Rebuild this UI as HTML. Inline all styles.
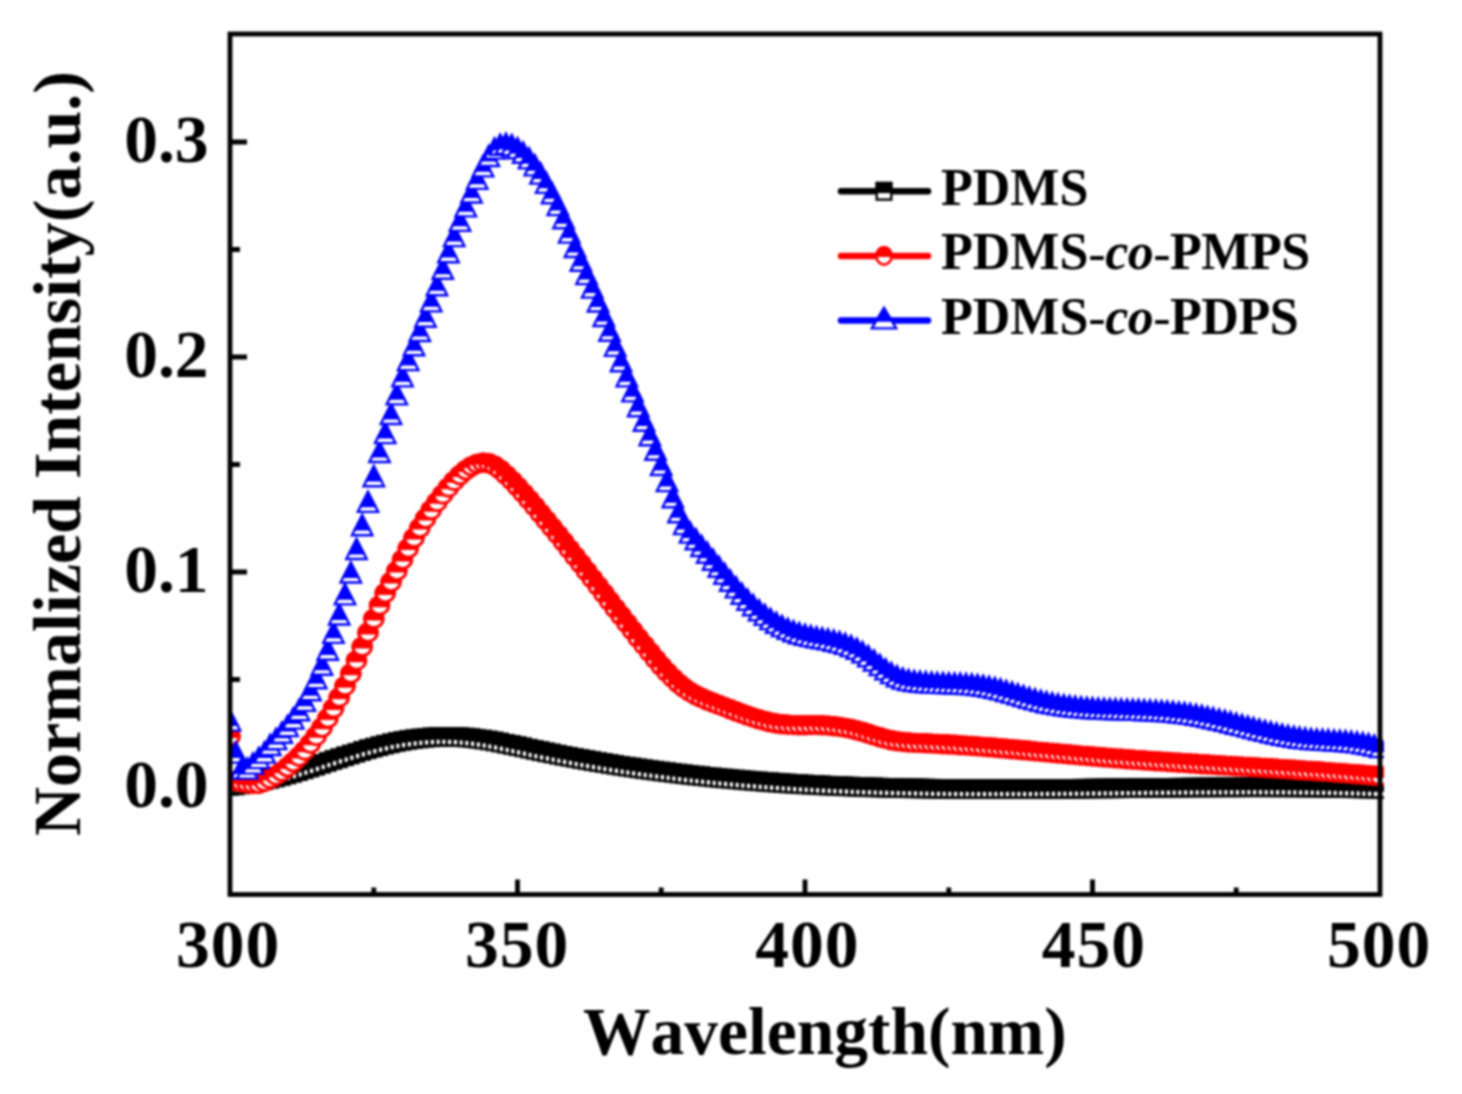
<!DOCTYPE html><html><head><meta charset="utf-8"><title>Normalized Intensity</title><style>html,body{margin:0;padding:0;background:#fff;}svg{display:block;}#w{filter:blur(0.8px);width:1462px;height:1094px;}text{font-family:"Liberation Serif",serif;}</style></head><body><div id="w"><svg width="1462" height="1094" viewBox="0 0 1462 1094"><defs><symbol id="ms" overflow="visible"><rect x="-7.5" y="-8.5" width="15.0" height="17.0" fill="#fff" stroke="#000" stroke-width="2.6"/><rect x="-8.8" y="-9.8" width="17.6" height="12.600000000000001" fill="#000"/></symbol><symbol id="ls" overflow="visible"><rect x="-7.3" y="-8.3" width="14.6" height="16.6" fill="#fff" stroke="#000" stroke-width="2.4"/><rect x="-8.5" y="-9.5" width="17.0" height="11.3" fill="#000"/></symbol><symbol id="mc" overflow="visible"><ellipse cx="0" cy="0" rx="9.2" ry="8.7" fill="#fff" stroke="#f00" stroke-width="3.0"/><path d="M-10.57,1.6 A10.7,10.2 0 1 1 10.57,1.6 Z" fill="#f00"/></symbol><symbol id="lc" overflow="visible"><ellipse cx="0" cy="0" rx="7.6" ry="8.6" fill="#fff" stroke="#f00" stroke-width="2.6"/><path d="M-8.85,1.0 A8.9,9.9 0 1 1 8.85,1.0 Z" fill="#f00"/></symbol><symbol id="mt" overflow="visible"><polygon points="0,-12.6 10.2,7.6 -10.2,7.6" fill="#fff" stroke="#00f" stroke-width="2.4" stroke-linejoin="miter"/><polygon points="0,-13.6 9.20,3.0 -9.20,3.0" fill="#00f"/></symbol><symbol id="lt" overflow="visible"><polygon points="0,-12.6 12.2,7.9 -12.2,7.9" fill="#fff" stroke="#00f" stroke-width="2.4" stroke-linejoin="miter"/><polygon points="0,-13.6 9.53,1.2 -9.53,1.2" fill="#00f"/></symbol><clipPath id="cp"><rect x="230" y="34" width="1154" height="861"/></clipPath></defs><rect width="1462" height="1094" fill="#fff"/><path d="M230,787h17 M230,572h17 M230,357h17 M230,142h17 M230,679.5h10 M230,464.5h10 M230,249.5h10 M517.5,894.5v-15 M805,894.5v-15 M1092.5,894.5v-15 M373.8,894.5v-7 M661.2,894.5v-7 M948.8,894.5v-7 M1236.2,894.5v-7" stroke="#000" stroke-width="4.8" fill="none"/><g clip-path="url(#cp)"><use href="#ms" x="230" y="786"/><use href="#ms" x="235.8" y="785.5"/><use href="#ms" x="241.5" y="784.5"/><use href="#ms" x="247.2" y="783.5"/><use href="#ms" x="253" y="782.5"/><use href="#ms" x="258.8" y="781.5"/><use href="#ms" x="264.5" y="780.3"/><use href="#ms" x="270.2" y="779"/><use href="#ms" x="276" y="777.6"/><use href="#ms" x="281.8" y="776.1"/><use href="#ms" x="287.5" y="774.5"/><use href="#ms" x="293.2" y="772.9"/><use href="#ms" x="299" y="771.2"/><use href="#ms" x="304.8" y="769.4"/><use href="#ms" x="310.5" y="767.6"/><use href="#ms" x="316.2" y="765.8"/><use href="#ms" x="322" y="763.9"/><use href="#ms" x="327.8" y="762"/><use href="#ms" x="333.5" y="760.1"/><use href="#ms" x="339.2" y="758.3"/><use href="#ms" x="345" y="756.4"/><use href="#ms" x="350.8" y="754.6"/><use href="#ms" x="356.5" y="752.8"/><use href="#ms" x="362.2" y="751"/><use href="#ms" x="368" y="749.3"/><use href="#ms" x="373.8" y="747.7"/><use href="#ms" x="379.5" y="746.2"/><use href="#ms" x="385.2" y="744.7"/><use href="#ms" x="391" y="743.4"/><use href="#ms" x="396.8" y="742.1"/><use href="#ms" x="402.5" y="741"/><use href="#ms" x="408.2" y="740"/><use href="#ms" x="414" y="739.2"/><use href="#ms" x="419.8" y="738.5"/><use href="#ms" x="425.5" y="737.9"/><use href="#ms" x="431.2" y="737.4"/><use href="#ms" x="437" y="737.1"/><use href="#ms" x="442.8" y="736.9"/><use href="#ms" x="448.5" y="736.9"/><use href="#ms" x="454.2" y="737"/><use href="#ms" x="460" y="737.2"/><use href="#ms" x="465.8" y="737.6"/><use href="#ms" x="471.5" y="738.1"/><use href="#ms" x="477.2" y="738.8"/><use href="#ms" x="483" y="739.6"/><use href="#ms" x="488.8" y="740.5"/><use href="#ms" x="494.5" y="741.5"/><use href="#ms" x="500.2" y="742.6"/><use href="#ms" x="506" y="743.8"/><use href="#ms" x="511.8" y="745"/><use href="#ms" x="517.5" y="746.2"/><use href="#ms" x="523.2" y="747.4"/><use href="#ms" x="529" y="748.7"/><use href="#ms" x="534.8" y="750"/><use href="#ms" x="540.5" y="751.2"/><use href="#ms" x="546.2" y="752.4"/><use href="#ms" x="552" y="753.5"/><use href="#ms" x="557.8" y="754.7"/><use href="#ms" x="563.5" y="755.8"/><use href="#ms" x="569.2" y="756.9"/><use href="#ms" x="575" y="758"/><use href="#ms" x="580.8" y="759.1"/><use href="#ms" x="586.5" y="760.1"/><use href="#ms" x="592.2" y="761.1"/><use href="#ms" x="598" y="762.1"/><use href="#ms" x="603.8" y="763"/><use href="#ms" x="609.5" y="764"/><use href="#ms" x="615.2" y="764.9"/><use href="#ms" x="621" y="765.8"/><use href="#ms" x="626.8" y="766.7"/><use href="#ms" x="632.5" y="767.5"/><use href="#ms" x="638.2" y="768.4"/><use href="#ms" x="644" y="769.2"/><use href="#ms" x="649.8" y="770"/><use href="#ms" x="655.5" y="770.7"/><use href="#ms" x="661.2" y="771.5"/><use href="#ms" x="667" y="772.2"/><use href="#ms" x="672.8" y="772.9"/><use href="#ms" x="678.5" y="773.6"/><use href="#ms" x="684.2" y="774.3"/><use href="#ms" x="690" y="775"/><use href="#ms" x="695.8" y="775.6"/><use href="#ms" x="701.5" y="776.2"/><use href="#ms" x="707.2" y="776.8"/><use href="#ms" x="713" y="777.4"/><use href="#ms" x="718.8" y="778"/><use href="#ms" x="724.5" y="778.5"/><use href="#ms" x="730.2" y="779"/><use href="#ms" x="736" y="779.5"/><use href="#ms" x="741.8" y="780"/><use href="#ms" x="747.5" y="780.5"/><use href="#ms" x="753.2" y="781"/><use href="#ms" x="759" y="781.4"/><use href="#ms" x="764.8" y="781.9"/><use href="#ms" x="770.5" y="782.3"/><use href="#ms" x="776.2" y="782.7"/><use href="#ms" x="782" y="783.1"/><use href="#ms" x="787.8" y="783.5"/><use href="#ms" x="793.5" y="783.8"/><use href="#ms" x="799.2" y="784.2"/><use href="#ms" x="805" y="784.5"/><use href="#ms" x="810.8" y="784.8"/><use href="#ms" x="816.5" y="785.1"/><use href="#ms" x="822.2" y="785.4"/><use href="#ms" x="828" y="785.7"/><use href="#ms" x="833.8" y="785.9"/><use href="#ms" x="839.5" y="786.2"/><use href="#ms" x="845.2" y="786.4"/><use href="#ms" x="851" y="786.6"/><use href="#ms" x="856.8" y="786.9"/><use href="#ms" x="862.5" y="787.1"/><use href="#ms" x="868.2" y="787.3"/><use href="#ms" x="874" y="787.4"/><use href="#ms" x="879.8" y="787.6"/><use href="#ms" x="885.5" y="787.8"/><use href="#ms" x="891.2" y="787.9"/><use href="#ms" x="897" y="788.1"/><use href="#ms" x="902.8" y="788.2"/><use href="#ms" x="908.5" y="788.3"/><use href="#ms" x="914.2" y="788.4"/><use href="#ms" x="920" y="788.5"/><use href="#ms" x="925.8" y="788.6"/><use href="#ms" x="931.5" y="788.7"/><use href="#ms" x="937.2" y="788.8"/><use href="#ms" x="943" y="788.9"/><use href="#ms" x="948.8" y="788.9"/><use href="#ms" x="954.5" y="789"/><use href="#ms" x="960.2" y="789"/><use href="#ms" x="966" y="789.1"/><use href="#ms" x="971.8" y="789.1"/><use href="#ms" x="977.5" y="789.1"/><use href="#ms" x="983.2" y="789.1"/><use href="#ms" x="989" y="789.1"/><use href="#ms" x="994.8" y="789.1"/><use href="#ms" x="1000.5" y="789.1"/><use href="#ms" x="1006.2" y="789.1"/><use href="#ms" x="1012" y="789.1"/><use href="#ms" x="1017.8" y="789.1"/><use href="#ms" x="1023.5" y="789.1"/><use href="#ms" x="1029.2" y="789.1"/><use href="#ms" x="1035" y="789.1"/><use href="#ms" x="1040.8" y="789"/><use href="#ms" x="1046.5" y="789"/><use href="#ms" x="1052.2" y="788.9"/><use href="#ms" x="1058" y="788.9"/><use href="#ms" x="1063.8" y="788.9"/><use href="#ms" x="1069.5" y="788.8"/><use href="#ms" x="1075.2" y="788.8"/><use href="#ms" x="1081" y="788.7"/><use href="#ms" x="1086.8" y="788.7"/><use href="#ms" x="1092.5" y="788.6"/><use href="#ms" x="1098.2" y="788.5"/><use href="#ms" x="1104" y="788.5"/><use href="#ms" x="1109.8" y="788.4"/><use href="#ms" x="1115.5" y="788.4"/><use href="#ms" x="1121.2" y="788.3"/><use href="#ms" x="1127" y="788.2"/><use href="#ms" x="1132.8" y="788.2"/><use href="#ms" x="1138.5" y="788.1"/><use href="#ms" x="1144.2" y="788.1"/><use href="#ms" x="1150" y="788"/><use href="#ms" x="1155.8" y="787.9"/><use href="#ms" x="1161.5" y="787.9"/><use href="#ms" x="1167.2" y="787.8"/><use href="#ms" x="1173" y="787.8"/><use href="#ms" x="1178.8" y="787.7"/><use href="#ms" x="1184.5" y="787.7"/><use href="#ms" x="1190.2" y="787.6"/><use href="#ms" x="1196" y="787.6"/><use href="#ms" x="1201.8" y="787.5"/><use href="#ms" x="1207.5" y="787.5"/><use href="#ms" x="1213.2" y="787.5"/><use href="#ms" x="1219" y="787.4"/><use href="#ms" x="1224.8" y="787.4"/><use href="#ms" x="1230.5" y="787.4"/><use href="#ms" x="1236.2" y="787.4"/><use href="#ms" x="1242" y="787.4"/><use href="#ms" x="1247.8" y="787.3"/><use href="#ms" x="1253.5" y="787.3"/><use href="#ms" x="1259.2" y="787.3"/><use href="#ms" x="1265" y="787.3"/><use href="#ms" x="1270.8" y="787.4"/><use href="#ms" x="1276.5" y="787.4"/><use href="#ms" x="1282.2" y="787.4"/><use href="#ms" x="1288" y="787.4"/><use href="#ms" x="1293.8" y="787.5"/><use href="#ms" x="1299.5" y="787.5"/><use href="#ms" x="1305.2" y="787.6"/><use href="#ms" x="1311" y="787.6"/><use href="#ms" x="1316.8" y="787.7"/><use href="#ms" x="1322.5" y="787.8"/><use href="#ms" x="1328.2" y="787.8"/><use href="#ms" x="1334" y="787.9"/><use href="#ms" x="1339.8" y="788"/><use href="#ms" x="1345.5" y="788.2"/><use href="#ms" x="1351.2" y="788.3"/><use href="#ms" x="1357" y="788.4"/><use href="#ms" x="1362.8" y="788.5"/><use href="#ms" x="1368.5" y="788.7"/><use href="#ms" x="1374.2" y="788.8"/><use href="#ms" x="1380" y="789"/><use href="#mc" x="230" y="736.5"/><use href="#mc" x="235.8" y="781"/><use href="#mc" x="241.5" y="782.5"/><use href="#mc" x="247.2" y="783.5"/><use href="#mc" x="253" y="784"/><use href="#mc" x="258.8" y="784"/><use href="#mc" x="264.5" y="781.9"/><use href="#mc" x="270.2" y="778.9"/><use href="#mc" x="276" y="775.6"/><use href="#mc" x="281.8" y="771.7"/><use href="#mc" x="287.5" y="767.3"/><use href="#mc" x="293.2" y="762.3"/><use href="#mc" x="299" y="756.8"/><use href="#mc" x="304.8" y="750.6"/><use href="#mc" x="310.5" y="743.7"/><use href="#mc" x="316.2" y="736.1"/><use href="#mc" x="322" y="727.7"/><use href="#mc" x="327.8" y="718.5"/><use href="#mc" x="333.5" y="708.4"/><use href="#mc" x="339.2" y="697.6"/><use href="#mc" x="345" y="686.1"/><use href="#mc" x="350.8" y="673.7"/><use href="#mc" x="356.5" y="660.6"/><use href="#mc" x="362.2" y="646.9"/><use href="#mc" x="368" y="632.8"/><use href="#mc" x="373.8" y="618.9"/><use href="#mc" x="379.5" y="605.6"/><use href="#mc" x="385.2" y="593.3"/><use href="#mc" x="391" y="582"/><use href="#mc" x="396.8" y="571"/><use href="#mc" x="402.5" y="559.8"/><use href="#mc" x="408.2" y="548.5"/><use href="#mc" x="414" y="537.9"/><use href="#mc" x="419.8" y="528"/><use href="#mc" x="425.5" y="518.8"/><use href="#mc" x="431.2" y="510.1"/><use href="#mc" x="437" y="502.1"/><use href="#mc" x="442.8" y="494.6"/><use href="#mc" x="448.5" y="487.6"/><use href="#mc" x="454.2" y="481.1"/><use href="#mc" x="460" y="475.3"/><use href="#mc" x="465.8" y="470.3"/><use href="#mc" x="471.5" y="466.4"/><use href="#mc" x="477.2" y="463.9"/><use href="#mc" x="483" y="462.8"/><use href="#mc" x="488.8" y="463.3"/><use href="#mc" x="494.5" y="465.7"/><use href="#mc" x="500.2" y="469.7"/><use href="#mc" x="506" y="474.9"/><use href="#mc" x="511.8" y="480.6"/><use href="#mc" x="517.5" y="486.7"/><use href="#mc" x="523.2" y="493.1"/><use href="#mc" x="529" y="499.7"/><use href="#mc" x="534.8" y="506.5"/><use href="#mc" x="540.5" y="513.4"/><use href="#mc" x="546.2" y="520.4"/><use href="#mc" x="552" y="527.5"/><use href="#mc" x="557.8" y="534.6"/><use href="#mc" x="563.5" y="541.8"/><use href="#mc" x="569.2" y="549.1"/><use href="#mc" x="575" y="556.4"/><use href="#mc" x="580.8" y="563.8"/><use href="#mc" x="586.5" y="571.2"/><use href="#mc" x="592.2" y="578.6"/><use href="#mc" x="598" y="586"/><use href="#mc" x="603.8" y="593.5"/><use href="#mc" x="609.5" y="601"/><use href="#mc" x="615.2" y="608.4"/><use href="#mc" x="621" y="615.8"/><use href="#mc" x="626.8" y="623.2"/><use href="#mc" x="632.5" y="630.6"/><use href="#mc" x="638.2" y="637.9"/><use href="#mc" x="644" y="645.1"/><use href="#mc" x="649.8" y="652.2"/><use href="#mc" x="655.5" y="659.2"/><use href="#mc" x="661.2" y="665.9"/><use href="#mc" x="667" y="672.2"/><use href="#mc" x="672.8" y="678.1"/><use href="#mc" x="678.5" y="683.4"/><use href="#mc" x="684.2" y="688"/><use href="#mc" x="690" y="691.9"/><use href="#mc" x="695.8" y="695.2"/><use href="#mc" x="701.5" y="698"/><use href="#mc" x="707.2" y="700.5"/><use href="#mc" x="713" y="702.8"/><use href="#mc" x="718.8" y="704.9"/><use href="#mc" x="724.5" y="707.1"/><use href="#mc" x="730.2" y="709.3"/><use href="#mc" x="736" y="711.5"/><use href="#mc" x="741.8" y="713.6"/><use href="#mc" x="747.5" y="715.7"/><use href="#mc" x="753.2" y="717.6"/><use href="#mc" x="759" y="719.4"/><use href="#mc" x="764.8" y="721"/><use href="#mc" x="770.5" y="722.4"/><use href="#mc" x="776.2" y="723.5"/><use href="#mc" x="782" y="724.3"/><use href="#mc" x="787.8" y="724.8"/><use href="#mc" x="793.5" y="725.1"/><use href="#mc" x="799.2" y="725.2"/><use href="#mc" x="805" y="725.2"/><use href="#mc" x="810.8" y="725.1"/><use href="#mc" x="816.5" y="725.1"/><use href="#mc" x="822.2" y="725.3"/><use href="#mc" x="828" y="725.6"/><use href="#mc" x="833.8" y="726.2"/><use href="#mc" x="839.5" y="726.9"/><use href="#mc" x="845.2" y="727.9"/><use href="#mc" x="851" y="729"/><use href="#mc" x="856.8" y="730.4"/><use href="#mc" x="862.5" y="732"/><use href="#mc" x="868.2" y="733.8"/><use href="#mc" x="874" y="735.6"/><use href="#mc" x="879.8" y="737.3"/><use href="#mc" x="885.5" y="738.9"/><use href="#mc" x="891.2" y="740.3"/><use href="#mc" x="897" y="741.3"/><use href="#mc" x="902.8" y="742"/><use href="#mc" x="908.5" y="742.5"/><use href="#mc" x="914.2" y="742.9"/><use href="#mc" x="920" y="743.1"/><use href="#mc" x="925.8" y="743.3"/><use href="#mc" x="931.5" y="743.6"/><use href="#mc" x="937.2" y="743.9"/><use href="#mc" x="943" y="744.2"/><use href="#mc" x="948.8" y="744.5"/><use href="#mc" x="954.5" y="744.8"/><use href="#mc" x="960.2" y="745.2"/><use href="#mc" x="966" y="745.6"/><use href="#mc" x="971.8" y="746"/><use href="#mc" x="977.5" y="746.4"/><use href="#mc" x="983.2" y="746.9"/><use href="#mc" x="989" y="747.3"/><use href="#mc" x="994.8" y="747.8"/><use href="#mc" x="1000.5" y="748.3"/><use href="#mc" x="1006.2" y="748.8"/><use href="#mc" x="1012" y="749.3"/><use href="#mc" x="1017.8" y="749.8"/><use href="#mc" x="1023.5" y="750.3"/><use href="#mc" x="1029.2" y="750.8"/><use href="#mc" x="1035" y="751.4"/><use href="#mc" x="1040.8" y="751.9"/><use href="#mc" x="1046.5" y="752.4"/><use href="#mc" x="1052.2" y="753"/><use href="#mc" x="1058" y="753.5"/><use href="#mc" x="1063.8" y="754"/><use href="#mc" x="1069.5" y="754.5"/><use href="#mc" x="1075.2" y="755"/><use href="#mc" x="1081" y="755.6"/><use href="#mc" x="1086.8" y="756"/><use href="#mc" x="1092.5" y="756.5"/><use href="#mc" x="1098.2" y="757"/><use href="#mc" x="1104" y="757.5"/><use href="#mc" x="1109.8" y="757.9"/><use href="#mc" x="1115.5" y="758.4"/><use href="#mc" x="1121.2" y="758.8"/><use href="#mc" x="1127" y="759.2"/><use href="#mc" x="1132.8" y="759.7"/><use href="#mc" x="1138.5" y="760.1"/><use href="#mc" x="1144.2" y="760.5"/><use href="#mc" x="1150" y="760.9"/><use href="#mc" x="1155.8" y="761.2"/><use href="#mc" x="1161.5" y="761.6"/><use href="#mc" x="1167.2" y="762"/><use href="#mc" x="1173" y="762.4"/><use href="#mc" x="1178.8" y="762.7"/><use href="#mc" x="1184.5" y="763.1"/><use href="#mc" x="1190.2" y="763.5"/><use href="#mc" x="1196" y="763.8"/><use href="#mc" x="1201.8" y="764.2"/><use href="#mc" x="1207.5" y="764.5"/><use href="#mc" x="1213.2" y="764.9"/><use href="#mc" x="1219" y="765.2"/><use href="#mc" x="1224.8" y="765.6"/><use href="#mc" x="1230.5" y="765.9"/><use href="#mc" x="1236.2" y="766.2"/><use href="#mc" x="1242" y="766.6"/><use href="#mc" x="1247.8" y="766.9"/><use href="#mc" x="1253.5" y="767.3"/><use href="#mc" x="1259.2" y="767.6"/><use href="#mc" x="1265" y="768"/><use href="#mc" x="1270.8" y="768.3"/><use href="#mc" x="1276.5" y="768.7"/><use href="#mc" x="1282.2" y="769.1"/><use href="#mc" x="1288" y="769.4"/><use href="#mc" x="1293.8" y="769.8"/><use href="#mc" x="1299.5" y="770.2"/><use href="#mc" x="1305.2" y="770.6"/><use href="#mc" x="1311" y="770.9"/><use href="#mc" x="1316.8" y="771.3"/><use href="#mc" x="1322.5" y="771.7"/><use href="#mc" x="1328.2" y="772.1"/><use href="#mc" x="1334" y="772.6"/><use href="#mc" x="1339.8" y="773"/><use href="#mc" x="1345.5" y="773.4"/><use href="#mc" x="1351.2" y="773.9"/><use href="#mc" x="1357" y="774.3"/><use href="#mc" x="1362.8" y="774.8"/><use href="#mc" x="1368.5" y="775.3"/><use href="#mc" x="1374.2" y="775.8"/><use href="#mc" x="1380" y="776.3"/><use href="#mt" x="230" y="723"/><use href="#mt" x="235.8" y="755"/><use href="#mt" x="241.5" y="771"/><use href="#mt" x="247.2" y="771"/><use href="#mt" x="253" y="766"/><use href="#mt" x="258.8" y="760.5"/><use href="#mt" x="264.5" y="755"/><use href="#mt" x="270.2" y="747.4"/><use href="#mt" x="276" y="741.5"/><use href="#mt" x="281.8" y="735.2"/><use href="#mt" x="287.5" y="728.5"/><use href="#mt" x="293.2" y="721"/><use href="#mt" x="299" y="712.7"/><use href="#mt" x="304.8" y="703.3"/><use href="#mt" x="310.5" y="692.7"/><use href="#mt" x="316.2" y="680.7"/><use href="#mt" x="322" y="667.2"/><use href="#mt" x="327.8" y="652.1"/><use href="#mt" x="333.5" y="635.3"/><use href="#mt" x="339.2" y="616.9"/><use href="#mt" x="345" y="596.8"/><use href="#mt" x="350.8" y="574.9"/><use href="#mt" x="356.5" y="551.4"/><use href="#mt" x="362.2" y="527.6"/><use href="#mt" x="368" y="504.3"/><use href="#mt" x="373.8" y="478.6"/><use href="#mt" x="379.5" y="454.4"/><use href="#mt" x="385.2" y="435.5"/><use href="#mt" x="391" y="416.4"/><use href="#mt" x="396.8" y="396.8"/><use href="#mt" x="402.5" y="378.8"/><use href="#mt" x="408.2" y="362.5"/><use href="#mt" x="414" y="347.7"/><use href="#mt" x="419.8" y="333.4"/><use href="#mt" x="425.5" y="319.1"/><use href="#mt" x="431.2" y="303.8"/><use href="#mt" x="437" y="287.7"/><use href="#mt" x="442.8" y="271.2"/><use href="#mt" x="448.5" y="254.6"/><use href="#mt" x="454.2" y="238.5"/><use href="#mt" x="460" y="223.3"/><use href="#mt" x="465.8" y="208.8"/><use href="#mt" x="471.5" y="194.9"/><use href="#mt" x="477.2" y="181.3"/><use href="#mt" x="483" y="168.8"/><use href="#mt" x="488.8" y="158.4"/><use href="#mt" x="494.5" y="151"/><use href="#mt" x="500.2" y="147.2"/><use href="#mt" x="506" y="146.3"/><use href="#mt" x="511.8" y="147.6"/><use href="#mt" x="517.5" y="150.7"/><use href="#mt" x="523.2" y="155.1"/><use href="#mt" x="529" y="160.8"/><use href="#mt" x="534.8" y="167.8"/><use href="#mt" x="540.5" y="176"/><use href="#mt" x="546.2" y="185.3"/><use href="#mt" x="552" y="195.7"/><use href="#mt" x="557.8" y="207.5"/><use href="#mt" x="563.5" y="220.7"/><use href="#mt" x="569.2" y="235"/><use href="#mt" x="575" y="249.4"/><use href="#mt" x="580.8" y="263.2"/><use href="#mt" x="586.5" y="276.5"/><use href="#mt" x="592.2" y="290"/><use href="#mt" x="598" y="303.9"/><use href="#mt" x="603.8" y="318.4"/><use href="#mt" x="609.5" y="333.2"/><use href="#mt" x="615.2" y="348.3"/><use href="#mt" x="621" y="363.6"/><use href="#mt" x="626.8" y="378.8"/><use href="#mt" x="632.5" y="393.8"/><use href="#mt" x="638.2" y="408.6"/><use href="#mt" x="644" y="423.1"/><use href="#mt" x="649.8" y="437.6"/><use href="#mt" x="655.5" y="452.2"/><use href="#mt" x="661.2" y="467.4"/><use href="#mt" x="667" y="483.5"/><use href="#mt" x="672.8" y="499.7"/><use href="#mt" x="678.5" y="514.7"/><use href="#mt" x="684.2" y="526.5"/><use href="#mt" x="690" y="535"/><use href="#mt" x="695.8" y="541.7"/><use href="#mt" x="701.5" y="548.4"/><use href="#mt" x="707.2" y="555.2"/><use href="#mt" x="713" y="562.2"/><use href="#mt" x="718.8" y="569.2"/><use href="#mt" x="724.5" y="576.2"/><use href="#mt" x="730.2" y="583.1"/><use href="#mt" x="736" y="589.8"/><use href="#mt" x="741.8" y="596.1"/><use href="#mt" x="747.5" y="602.1"/><use href="#mt" x="753.2" y="607.6"/><use href="#mt" x="759" y="612.7"/><use href="#mt" x="764.8" y="617.3"/><use href="#mt" x="770.5" y="621.5"/><use href="#mt" x="776.2" y="625.2"/><use href="#mt" x="782" y="628.5"/><use href="#mt" x="787.8" y="631.3"/><use href="#mt" x="793.5" y="633.7"/><use href="#mt" x="799.2" y="635.6"/><use href="#mt" x="805" y="637.2"/><use href="#mt" x="810.8" y="638.5"/><use href="#mt" x="816.5" y="639.7"/><use href="#mt" x="822.2" y="640.7"/><use href="#mt" x="828" y="641.8"/><use href="#mt" x="833.8" y="643.1"/><use href="#mt" x="839.5" y="644.5"/><use href="#mt" x="845.2" y="646.3"/><use href="#mt" x="851" y="648.5"/><use href="#mt" x="856.8" y="651.2"/><use href="#mt" x="862.5" y="654.6"/><use href="#mt" x="868.2" y="658.6"/><use href="#mt" x="874" y="662.9"/><use href="#mt" x="879.8" y="667.4"/><use href="#mt" x="885.5" y="671.7"/><use href="#mt" x="891.2" y="675.5"/><use href="#mt" x="897" y="678.7"/><use href="#mt" x="902.8" y="681"/><use href="#mt" x="908.5" y="682.5"/><use href="#mt" x="914.2" y="683.4"/><use href="#mt" x="920" y="684.1"/><use href="#mt" x="925.8" y="684.6"/><use href="#mt" x="931.5" y="685"/><use href="#mt" x="937.2" y="685.3"/><use href="#mt" x="943" y="685.5"/><use href="#mt" x="948.8" y="685.7"/><use href="#mt" x="954.5" y="685.9"/><use href="#mt" x="960.2" y="686.1"/><use href="#mt" x="966" y="686.4"/><use href="#mt" x="971.8" y="686.8"/><use href="#mt" x="977.5" y="687.4"/><use href="#mt" x="983.2" y="688.2"/><use href="#mt" x="989" y="689.2"/><use href="#mt" x="994.8" y="690.4"/><use href="#mt" x="1000.5" y="691.8"/><use href="#mt" x="1006.2" y="693.4"/><use href="#mt" x="1012" y="695"/><use href="#mt" x="1017.8" y="696.7"/><use href="#mt" x="1023.5" y="698.5"/><use href="#mt" x="1029.2" y="700.2"/><use href="#mt" x="1035" y="701.8"/><use href="#mt" x="1040.8" y="703.2"/><use href="#mt" x="1046.5" y="704.6"/><use href="#mt" x="1052.2" y="705.7"/><use href="#mt" x="1058" y="706.8"/><use href="#mt" x="1063.8" y="707.7"/><use href="#mt" x="1069.5" y="708.4"/><use href="#mt" x="1075.2" y="709.1"/><use href="#mt" x="1081" y="709.7"/><use href="#mt" x="1086.8" y="710.2"/><use href="#mt" x="1092.5" y="710.6"/><use href="#mt" x="1098.2" y="710.9"/><use href="#mt" x="1104" y="711.2"/><use href="#mt" x="1109.8" y="711.4"/><use href="#mt" x="1115.5" y="711.6"/><use href="#mt" x="1121.2" y="711.8"/><use href="#mt" x="1127" y="712"/><use href="#mt" x="1132.8" y="712.2"/><use href="#mt" x="1138.5" y="712.3"/><use href="#mt" x="1144.2" y="712.6"/><use href="#mt" x="1150" y="712.8"/><use href="#mt" x="1155.8" y="713.1"/><use href="#mt" x="1161.5" y="713.4"/><use href="#mt" x="1167.2" y="713.8"/><use href="#mt" x="1173" y="714.3"/><use href="#mt" x="1178.8" y="714.9"/><use href="#mt" x="1184.5" y="715.5"/><use href="#mt" x="1190.2" y="716.3"/><use href="#mt" x="1196" y="717.2"/><use href="#mt" x="1201.8" y="718.2"/><use href="#mt" x="1207.5" y="719.4"/><use href="#mt" x="1213.2" y="720.6"/><use href="#mt" x="1219" y="721.9"/><use href="#mt" x="1224.8" y="723.2"/><use href="#mt" x="1230.5" y="724.6"/><use href="#mt" x="1236.2" y="726.1"/><use href="#mt" x="1242" y="727.5"/><use href="#mt" x="1247.8" y="729"/><use href="#mt" x="1253.5" y="730.5"/><use href="#mt" x="1259.2" y="731.9"/><use href="#mt" x="1265" y="733.3"/><use href="#mt" x="1270.8" y="734.6"/><use href="#mt" x="1276.5" y="735.9"/><use href="#mt" x="1282.2" y="737.1"/><use href="#mt" x="1288" y="738.2"/><use href="#mt" x="1293.8" y="739.2"/><use href="#mt" x="1299.5" y="740.1"/><use href="#mt" x="1305.2" y="740.8"/><use href="#mt" x="1311" y="741.4"/><use href="#mt" x="1316.8" y="741.8"/><use href="#mt" x="1322.5" y="742.2"/><use href="#mt" x="1328.2" y="742.5"/><use href="#mt" x="1334" y="742.9"/><use href="#mt" x="1339.8" y="743.2"/><use href="#mt" x="1345.5" y="743.6"/><use href="#mt" x="1351.2" y="744.1"/><use href="#mt" x="1357" y="744.8"/><use href="#mt" x="1362.8" y="745.6"/><use href="#mt" x="1368.5" y="746.6"/><use href="#mt" x="1374.2" y="747.9"/><use href="#mt" x="1380" y="749.4"/></g><rect x="230" y="34" width="1150" height="860.5" fill="none" stroke="#000" stroke-width="4.8"/><text x="208.5" y="807" text-anchor="end" font-family="Liberation Serif, serif" font-weight="bold" font-size="67.5">0.0</text><text x="208.5" y="592" text-anchor="end" font-family="Liberation Serif, serif" font-weight="bold" font-size="67.5">0.1</text><text x="208.5" y="377" text-anchor="end" font-family="Liberation Serif, serif" font-weight="bold" font-size="67.5">0.2</text><text x="208.5" y="162" text-anchor="end" font-family="Liberation Serif, serif" font-weight="bold" font-size="67.5">0.3</text><text x="228" y="967" text-anchor="middle" font-family="Liberation Serif, serif" font-weight="bold" font-size="67.5" letter-spacing="1">300</text><text x="517" y="967" text-anchor="middle" font-family="Liberation Serif, serif" font-weight="bold" font-size="67.5" letter-spacing="1">350</text><text x="807.3" y="967" text-anchor="middle" font-family="Liberation Serif, serif" font-weight="bold" font-size="67.5" letter-spacing="1">400</text><text x="1093.9" y="967" text-anchor="middle" font-family="Liberation Serif, serif" font-weight="bold" font-size="67.5" letter-spacing="1">450</text><text x="1379" y="967" text-anchor="middle" font-family="Liberation Serif, serif" font-weight="bold" font-size="67.5" letter-spacing="1">500</text><text x="583" y="1054" font-family="Liberation Serif, serif" font-weight="bold" font-size="67.5" style="font-kerning:none">Wavelength(nm)</text><text transform="translate(79.8,836) rotate(-90)" x="0" y="0" font-family="Liberation Serif, serif" font-weight="bold" font-size="68">Normalized Intensity(a.u.)</text><line x1="841" y1="191.3" x2="928" y2="191.3" stroke="#000" stroke-width="6.5" stroke-linecap="round"/><use href="#ls" x="884" y="191.3"/><text x="941" y="204.6" font-family="Liberation Serif, serif" font-weight="bold" font-size="52">PDMS</text><line x1="841" y1="256" x2="928" y2="256" stroke="#f00" stroke-width="6.5" stroke-linecap="round"/><use href="#lc" x="884" y="256"/><text x="941" y="269.3" font-family="Liberation Serif, serif" font-weight="bold" font-size="52">PDMS<tspan font-weight="normal" dy="1.5" letter-spacing="-0.5">-</tspan><tspan font-style="italic" dy="-1.5" letter-spacing="-0.5">co</tspan><tspan font-weight="normal" dy="1.5" letter-spacing="-0.5">-</tspan><tspan dy="-1.5" letter-spacing="-0.5">PMPS</tspan></text><line x1="841" y1="320.5" x2="928" y2="320.5" stroke="#00f" stroke-width="6.5" stroke-linecap="round"/><use href="#lt" x="884" y="320.5"/><text x="941" y="333.8" font-family="Liberation Serif, serif" font-weight="bold" font-size="52">PDMS<tspan font-weight="normal" dy="1.5" letter-spacing="-0.5">-</tspan><tspan font-style="italic" dy="-1.5" letter-spacing="-0.5">co</tspan><tspan font-weight="normal" dy="1.5" letter-spacing="-0.5">-</tspan><tspan dy="-1.5" letter-spacing="-0.5">PDPS</tspan></text></svg></div></body></html>
